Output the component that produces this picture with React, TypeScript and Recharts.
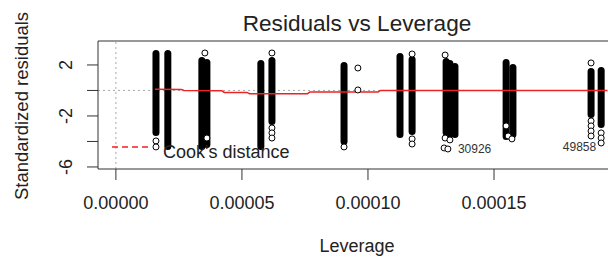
import { ComposedChart, XAxis, YAxis, Line, Scatter, ReferenceLine } from 'recharts';

// leverage ticks
const xTicks = [0, 0.00005, 0.0001, 0.00015];
const xTickLabels = ['0.00000', '0.00005', '0.00010', '0.00015'];
const yTicks = [-6, -4, -2, 0, 2];
const yTickLabels = ['-6', '', '-2', '', '2'];

// dense point columns: leverage, highest and lowest residual
const columnLev = [1.59e-5, 2.06e-5, 3.41e-5, 3.61e-5, 5.75e-5, 6.19e-5, 9.05e-5, 1.127e-4, 1.175e-4, 1.31e-4, 1.325e-4, 1.345e-4, 1.548e-4, 1.575e-4, 1.885e-4, 1.925e-4];
const columnTop = [2.9, 2.9, 2.35, 2.2, 2.12, 2.35, 1.96, 2.67, 2.43, 2.27, 2.12, 1.88, 2.2, 1.8, 1.49, 1.57];
const columnBottom = [-3.29, -4.39, -4.39, -4.24, -4.39, -2.43, -4.0, -3.45, -3.22, -3.29, -3.45, -3.45, -3.61, -3.45, -1.88, -2.67];

// separate points
const outlierLev = [1.59e-5, 1.59e-5, 3.53e-5, 3.61e-5, 6.19e-5, 6.19e-5, 6.19e-5, 6.19e-5, 9.05e-5, 9.6e-5, 9.6e-5, 1.175e-4, 1.175e-4, 1.175e-4, 1.306e-4, 1.306e-4, 1.325e-4, 1.302e-4, 1.317e-4, 1.548e-4, 1.556e-4, 1.571e-4, 1.885e-4, 1.885e-4, 1.885e-4, 1.885e-4, 1.885e-4, 1.925e-4, 1.925e-4, 1.925e-4];
const outlierRes = [-3.96, -4.43, 2.94, -3.73, 2.94, -2.94, -3.33, -3.73, -4.43, 1.76, 0.04, 2.86, -3.8, -4.2, 2.78, -3.73, -3.88, -4.51, -4.59, -2.78, -3.57, -3.8, 2.16, -2.39, -2.78, -3.18, -3.57, -3.33, -3.73, -4.12];

// red smoother
const smoothLev = [1.55e-5, 2.6e-5, 2.7e-5, 4.2e-5, 4.3e-5, 5.2e-5, 5.3e-5, 7.6e-5, 7.7e-5, 1.04e-4, 1.05e-4, 1.95e-4];
const smoothRes = [0.1, 0.08, 0.0, -0.03, -0.15, -0.15, -0.25, -0.25, -0.12, -0.12, 0.0, 0.0];

// labelled observations
const idLev = [1.325e-4, 1.925e-4];
const idRes = [-4.6, -4.4];
const idLabels = ['30926', '49858'];
const idSide = ['start', 'end'];

const xMin = -7.1e-6;
const xMax = 1.968e-4;
const yMin = -6.16;
const yMax = 3.88;

const outliers = outlierLev.map((x, i) => ({ x, y: outlierRes[i] }));
const smooth = smoothLev.map((x, i) => ({ x, y: smoothRes[i] }));
const ids = idLev.map((x, i) => ({ x, y: idRes[i], id: idLabels[i], side: idSide[i] }));

const font = 'Liberation Sans, Arial, sans-serif';
const ink = '#222';

const YTick = (props: any) => {
  const { x, y, payload } = props;
  const label = yTickLabels[yTicks.indexOf(payload.value)];
  return (
    <text transform={`translate(${x - 13},${y}) rotate(-90)`} textAnchor="middle" fontSize={18} fontFamily={font} fill={ink}>
      {label}
    </text>
  );
};

const OpenCircle = (props: any) => (
  <circle cx={props.cx} cy={props.cy} r={3} fill="#fff" stroke="#000" strokeWidth={1} />
);

const IdLabel = (props: any) => {
  const { cx, cy, payload } = props;
  const start = payload.side === 'start';
  return (
    <text x={start ? cx + 8 : cx - 5} y={cy + 4} textAnchor={start ? 'start' : 'end'} fontSize={12} fontFamily={font} fill="#333">
      {payload.id}
    </text>
  );
};

export default function App() {
  return (
    <div style={{ position: 'absolute', left: 0, top: 0, width: 608, height: 258, overflow: 'hidden', background: '#fff' }}>
      <ComposedChart width={620} height={258} margin={{ top: 41, right: 8, bottom: 0, left: 38 }}>
        <XAxis
          type="number"
          dataKey="x"
          domain={[xMin, xMax]}
          ticks={xTicks}
          tickFormatter={(v: number, i: number) => xTickLabels[i]}
          allowDataOverflow
          height={89}
          tickSize={11}
          tickMargin={16}
          axisLine={{ stroke: '#333' }}
          tickLine={{ stroke: '#333' }}
          tick={{ fontSize: 18, fill: ink, fontFamily: font }}
        />
        <YAxis
          type="number"
          dataKey="y"
          domain={[yMin, yMax]}
          ticks={yTicks}
          allowDataOverflow
          width={60}
          tickSize={11}
          axisLine={{ stroke: '#333' }}
          tickLine={{ stroke: '#333' }}
          tick={<YTick />}
        />
        <ReferenceLine x={0} stroke="#aaa" strokeDasharray="2 3" />
        <ReferenceLine y={0} stroke="#aaa" strokeDasharray="2 3" />
        <ReferenceLine y={yMax} stroke="#333" />
        <ReferenceLine x={xMax} stroke="#333" />
        {columnLev.map((lev, i) => (
          <ReferenceLine
            key={i}
            segment={[{ x: lev, y: columnBottom[i] }, { x: lev, y: columnTop[i] }]}
            stroke="#000"
            strokeWidth={7}
            strokeLinecap="round"
          />
        ))}
        <Scatter data={outliers} dataKey="y" shape={<OpenCircle />} isAnimationActive={false} />
        <Line data={smooth} dataKey="y" stroke="#ee2222" strokeWidth={1.5} dot={false} isAnimationActive={false} />
        <Scatter data={ids} dataKey="y" shape={<IdLabel />} isAnimationActive={false} />
      </ComposedChart>
      <svg width={608} height={258} style={{ position: 'absolute', left: 0, top: 0, pointerEvents: 'none' }}>
        <text x={357} y={31} textAnchor="middle" fontSize={22.6} fontFamily={font} fill={ink}>
          Residuals vs Leverage
        </text>
        <text transform="translate(28,106) rotate(-90)" textAnchor="middle" fontSize={18.5} fontFamily={font} fill={ink}>
          Standardized residuals
        </text>
        <text x={357} y={252} textAnchor="middle" fontSize={18} fontFamily={font} fill={ink}>
          Leverage
        </text>
        <line x1={112} y1={147} x2={148} y2={147} stroke="#ee2222" strokeWidth={1.5} strokeDasharray="6 4" />
        <text x={163} y={158} fontSize={18} fontFamily={font} fill={ink}>
          Cook's distance
        </text>
      </svg>
    </div>
  );
}
